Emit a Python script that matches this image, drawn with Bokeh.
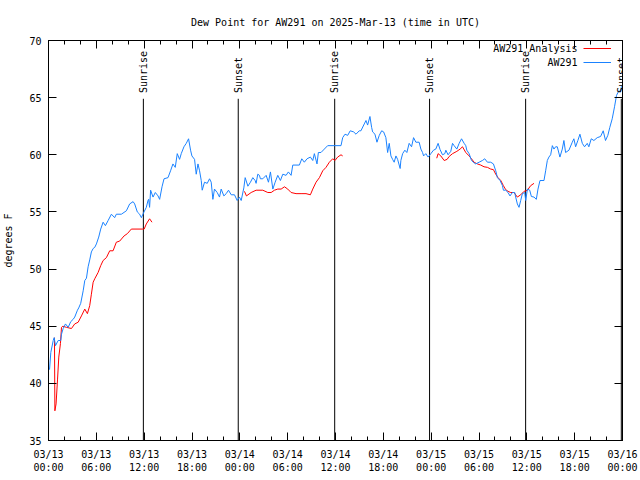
import math
from bokeh.plotting import figure
from bokeh.models import (Range1d, FixedTicker, LinearAxis, ColumnDataSource,
                          LabelSet, Label, Legend, LegendItem)
from bokeh.core.properties import value
from bokeh.embed import file_html
from bokeh.resources import INLINE

# ---------------- data (hours after 2025-03-13 00:00 UTC) ----------------
obs_hours = [
    0.13, 0.29, 0.59, 0.71, 0.88, 1.21, 1.54, 1.63, 1.84, 2.13,
    2.47, 2.79, 3.09, 3.29, 3.63, 3.79, 4.04, 4.35, 4.55, 4.76,
    4.97, 5.17, 5.38, 5.60, 5.80, 6.01, 6.30, 6.55, 6.85, 7.14,
    7.48, 7.89, 8.30, 8.51, 9.14, 9.77, 10.18, 10.61, 10.81, 11.14,
    11.43, 11.65, 11.98, 12.27, 12.48, 12.56, 12.68, 12.81, 13.11, 13.40,
    13.74, 13.94, 14.24, 14.49, 14.99, 15.31, 15.61, 15.90, 16.15, 16.44,
    16.65, 16.99, 17.28, 17.57, 17.82, 17.99, 18.32, 18.53, 18.75, 18.95,
    19.16, 19.28, 19.57, 19.91, 20.20, 20.41, 20.62, 20.82, 21.16, 21.45,
    21.66, 22.00, 22.29, 22.58, 22.92, 23.33, 23.67, 23.95, 24.17, 24.50,
    24.67, 25.01, 25.33, 25.63, 25.92, 26.04, 26.25, 26.46, 26.58, 26.88,
    27.30, 27.59, 27.84, 28.14, 28.43, 28.76, 29.09, 29.39, 29.80, 30.09,
    30.43, 30.64, 31.47, 31.77, 32.09, 32.43, 32.85, 33.15, 33.35, 33.68,
    33.85, 34.18, 34.60, 35.02, 36.69, 36.90, 37.19, 37.53, 37.85, 38.28,
    38.57, 38.98, 39.19, 39.61, 39.82, 40.03, 40.32, 40.53, 40.66, 40.95,
    41.20, 41.49, 41.79, 42.04, 42.32, 42.54, 42.74, 42.95, 43.16, 43.36,
    43.58, 43.79, 44.11, 44.20, 44.42, 44.70, 44.95, 45.24, 45.54, 45.79,
    46.08, 46.49, 46.71, 46.92, 47.05, 47.33, 47.62, 47.96, 48.29, 48.58,
    48.87, 49.12, 49.42, 49.71, 49.84, 50.12, 50.46, 50.68, 50.88, 51.22,
    51.51, 51.81, 52.14, 52.34, 52.47, 52.76, 53.06, 53.38, 53.59, 54.01,
    54.43, 54.72, 55.06, 55.47, 55.81, 56.10, 56.31, 56.64, 56.94, 57.06,
    57.35, 57.64, 57.89, 58.19, 58.48, 58.60, 58.81, 59.02, 59.23, 59.44,
    59.73, 59.86, 60.07, 60.36, 60.57, 60.90, 61.19, 61.40, 61.65, 62.15,
    62.36, 62.57, 62.77, 62.99, 63.20, 63.40, 63.61, 63.82, 64.15, 64.45,
    64.65, 64.86, 65.28, 65.70, 65.90, 66.12, 66.40, 66.66, 66.96, 67.24,
    67.58, 67.78, 68.08, 68.41, 68.83, 69.25, 69.58, 69.87, 70.16, 70.41,
    70.71, 71.00, 71.25, 71.54, 71.75, 71.87,
]
obs_dewpt = [
    41.2, 42.7, 43.75, 44.0, 43.3, 43.75, 43.75, 44.3, 44.8, 45.2,
    44.9, 45.4, 45.6, 45.8, 46.4, 46.6, 47.0, 48.1, 49.0, 49.2,
    50.2, 50.8, 51.5, 51.8, 51.9, 52.2, 52.8, 53.5, 54.1, 53.8,
    54.25, 54.8, 54.5, 54.8, 54.8, 55.1, 55.7, 55.9, 55.7, 55.0,
    54.8, 54.5, 55.0, 55.4, 56.0, 56.1, 55.4, 56.9, 56.3, 56.7,
    56.4, 56.1, 57.2, 57.9, 58.0, 58.6, 59.2, 58.9, 60.1, 59.6,
    60.1, 60.7, 61.0, 61.4, 60.4, 59.9, 59.6, 58.3, 59.2, 58.6,
    57.75, 56.9, 57.6, 57.5, 57.9, 57.6, 56.1, 57.0, 56.7, 56.3,
    57.0, 56.4, 56.6, 56.9, 56.5, 56.5, 56.0, 56.3, 56.0, 57.1,
    58.0, 57.25, 57.6, 58.0, 57.75, 57.5, 58.3, 58.2, 57.9, 57.9,
    58.2, 57.6, 58.5, 57.0, 57.6, 58.2, 57.75, 58.3, 58.2, 58.5,
    58.2, 59.1, 59.1, 59.65, 59.35, 59.65, 59.8, 59.5, 60.1, 59.2,
    60.2, 60.2, 60.5, 60.8, 60.8, 61.5, 61.8, 61.7, 62.1, 62.0,
    61.8, 62.1, 62.1, 62.7, 63.0, 62.6, 63.35, 62.4, 62.0, 61.8,
    61.1, 61.7, 62.1, 62.0, 61.5, 60.2, 61.0, 59.9, 59.6, 59.35,
    59.9, 59.6, 58.8, 59.5, 60.1, 60.4, 60.2, 61.0, 60.7, 61.5,
    61.1, 61.1, 60.5, 60.2, 59.9, 60.1, 59.8, 60.1, 60.4, 60.5,
    61.0, 60.45, 60.0, 60.1, 60.4, 60.0, 60.3, 61.0, 60.8, 60.5,
    61.0, 61.4, 61.0, 60.8, 60.4, 60.1, 59.5, 59.3, 59.2, 59.35,
    59.5, 59.65, 59.35, 59.35, 59.2, 58.6, 58.0, 57.75, 57.3, 56.9,
    56.9, 56.7, 56.4, 56.7, 56.7, 56.3, 55.7, 55.4, 56.0, 56.6,
    56.7, 56.0, 57.0, 56.9, 56.35, 56.3, 56.1, 57.0, 57.75, 57.75,
    58.6, 59.5, 59.8, 60.0, 60.8, 60.5, 60.7, 60.7, 59.8, 60.5,
    61.25, 60.2, 60.4, 61.1, 61.4, 60.7, 61.25, 61.8, 61.0, 60.7,
    61.0, 60.7, 61.4, 61.25, 61.5, 61.6, 62.1, 61.25, 61.7, 62.4,
    63.15, 64.2, 65.2, 65.6, 65.5, 66.0,
]

ana1_hours = [0.75, 0.80, 0.95, 1.13, 1.29, 1.50, 1.63, 1.80, 2.25, 2.88,
              3.29, 3.72, 4.13, 4.55, 4.88, 5.17, 5.38, 5.60, 5.80, 6.22,
              6.55, 6.85, 7.26, 7.68, 8.10, 8.51, 8.93, 9.48, 9.89, 10.39,
              11.80, 12.00, 12.27, 12.68, 12.98]
ana1_dewpt = [44.0, 37.6, 38.2, 40.3, 42.3, 43.5, 44.9, 45.0, 44.9, 44.8,
              45.2, 45.35, 45.9, 46.5, 46.1, 46.8, 47.8, 48.85, 49.15, 49.7,
              50.3, 50.75, 51.0, 51.6, 51.6, 52.35, 52.45, 52.9, 53.1, 53.5,
              53.5, 53.5, 53.95, 54.4, 54.1]

ana2_hours = [24.58, 24.83, 25.42, 26.04, 26.88, 27.51, 27.93, 28.34, 28.76, 29.18,
              29.60, 30.01, 30.43, 31.05, 31.68, 32.30, 32.85, 33.15, 33.56, 33.98,
              34.40, 34.81, 35.23, 35.65, 35.94, 36.27, 36.69, 36.90]
ana2_dewpt = [56.8, 56.4, 56.7, 56.9, 56.9, 56.7, 56.7, 56.9, 57.0, 57.0,
              57.2, 57.0, 56.7, 56.6, 56.6, 56.6, 56.5, 57.0, 57.6, 58.0,
              58.6, 58.9, 59.35, 59.65, 59.5, 59.8, 60.0, 59.9]

ana3_hours = [48.70, 48.87, 49.21, 49.63, 50.00, 50.25, 50.68, 51.22, 51.63, 51.93,
              52.34, 52.76, 53.06, 53.38, 53.80, 54.22, 54.63, 55.06, 55.47, 55.81,
              56.10, 56.39, 56.73, 57.06, 57.35, 57.64, 57.98, 58.39, 58.81, 59.23,
              59.65, 60.07, 60.48, 60.90]
ana3_dewpt = [59.7, 60.1, 59.9, 59.5, 59.6, 59.85, 60.1, 60.3, 60.5, 60.7,
              60.2, 59.9, 59.65, 59.35, 59.2, 59.1, 58.95, 58.9, 58.75, 58.7,
              58.3, 58.0, 57.75, 57.3, 56.95, 56.8, 56.7, 56.7, 56.3, 56.5,
              56.8, 56.9, 57.3, 57.5]

sun_hours = [11.9, 23.8, 35.9, 47.8, 59.85, 71.85]
sun_labels = ["Sunrise", "Sunset", "Sunrise", "Sunset", "Sunrise", "Sunset"]
sun_line_top = 64.9
sun_label_base = 65.4

x_tick_hours = [0, 6, 12, 18, 24, 30, 36, 42, 48, 54, 60, 66, 72]
x_tick_labels = ["03/13\n00:00", "03/13\n06:00", "03/13\n12:00", "03/13\n18:00",
                 "03/14\n00:00", "03/14\n06:00", "03/14\n12:00", "03/14\n18:00",
                 "03/15\n00:00", "03/15\n06:00", "03/15\n12:00", "03/15\n18:00",
                 "03/16\n00:00"]
x_minor_hours = list(range(0, 73, 2))
y_ticks = [35, 40, 45, 50, 55, 60, 65, 70]

series_names = ["AW291 Analysis", "AW291"]
series_colors = ["#ff0000", "#1a82ff"]

FONT = "DejaVu Sans Mono"
FS = "10px"

p = figure(width=640, height=480, output_backend="svg", toolbar_location=None,
           x_range=Range1d(0, 72), y_range=Range1d(35, 70),
           min_border_left=47, min_border_right=18, min_border_top=40,
           min_border_bottom=40)
p.grid.visible = False
p.outline_line_color = "black"
p.background_fill_color = "white"
p.border_fill_color = "white"

p.title.text = "Dew Point for AW291 on 2025-Mar-13 (time in UTC)"
p.title.align = "center"
p.title.text_font = FONT
p.title.text_font_size = FS
p.title.text_font_style = "normal"
p.title.text_color = "black"
p.title.standoff = 25

xt = FixedTicker(ticks=x_tick_hours, minor_ticks=x_minor_hours)
yt = FixedTicker(ticks=y_ticks, minor_ticks=[])

def style(ax, labels=True, standoff=7):
    ax.major_tick_in = 8
    ax.major_tick_out = 0
    ax.minor_tick_in = 4
    ax.minor_tick_out = 0
    ax.axis_line_color = "black"
    ax.major_tick_line_color = "black"
    ax.minor_tick_line_color = "black"
    ax.major_label_text_font = FONT
    ax.major_label_text_color = "black"
    ax.major_label_text_font_size = FS if labels else "0px"
    ax.major_label_standoff = standoff if labels else 0

xa = p.xaxis[0]
xa.ticker = xt
style(xa, standoff=8)
xa.major_label_overrides = {t: l for t, l in zip(x_tick_hours, x_tick_labels)}

ya = p.yaxis[0]
ya.ticker = yt
style(ya, standoff=7)
ya.axis_label = "degrees F"
ya.axis_label_text_font = FONT
ya.axis_label_text_font_size = FS
ya.axis_label_text_font_style = "normal"
ya.axis_label_text_color = "black"
ya.axis_label_standoff = 12

top = LinearAxis(ticker=xt)
style(top, labels=False)
top.major_label_overrides = {t: "" for t in x_tick_hours}
p.add_layout(top, "above")
right = LinearAxis(ticker=yt)
style(right, labels=False)
right.major_label_overrides = {t: "" for t in y_ticks}
p.add_layout(right, "right")

# sunrise / sunset markers
sun_src = ColumnDataSource(dict(x=sun_hours, y0=[35] * len(sun_hours),
                                y1=[sun_line_top] * len(sun_hours),
                                yl=[sun_label_base] * len(sun_hours),
                                text=sun_labels))
p.segment(x0="x", y0="y0", x1="x", y1="y1", source=sun_src,
          line_color="black", line_width=1)
p.add_layout(LabelSet(x="x", y="yl", text="text", source=sun_src,
                      angle=math.pi / 2, text_font=value(FONT),
                      text_font_size=value(FS),
                      text_align="left", text_baseline="middle",
                      text_color="black"))

r_a1 = p.line(ana1_hours, ana1_dewpt, line_color=series_colors[0], line_width=1)
p.line(ana2_hours, ana2_dewpt, line_color=series_colors[0], line_width=1)
p.line(ana3_hours, ana3_dewpt, line_color=series_colors[0], line_width=1)
r_obs = p.line(obs_hours, obs_dewpt, line_color=series_colors[1], line_width=1)

# gnuplot-style key: text right-aligned, sample line to its right
legend = Legend(items=[LegendItem(label=" ", renderers=[r_a1]),
                       LegendItem(label="  ", renderers=[r_obs])],
                location=(535, 371), glyph_width=28, glyph_height=14,
                label_height=14, label_width=0, label_standoff=0,
                label_text_font_size="1px",
                spacing=0, padding=0, margin=0,
                background_fill_alpha=0, border_line_alpha=0)
p.add_layout(legend)
for i, name in enumerate(series_names):
    p.add_layout(Label(x=529, y=392 - 14 * i, x_units="screen", y_units="screen",
                       text=name, text_align="right", text_baseline="middle",
                       text_font=FONT, text_font_size=FS, text_color="black"))

open("out.html", "w").write(file_html(p, INLINE))
